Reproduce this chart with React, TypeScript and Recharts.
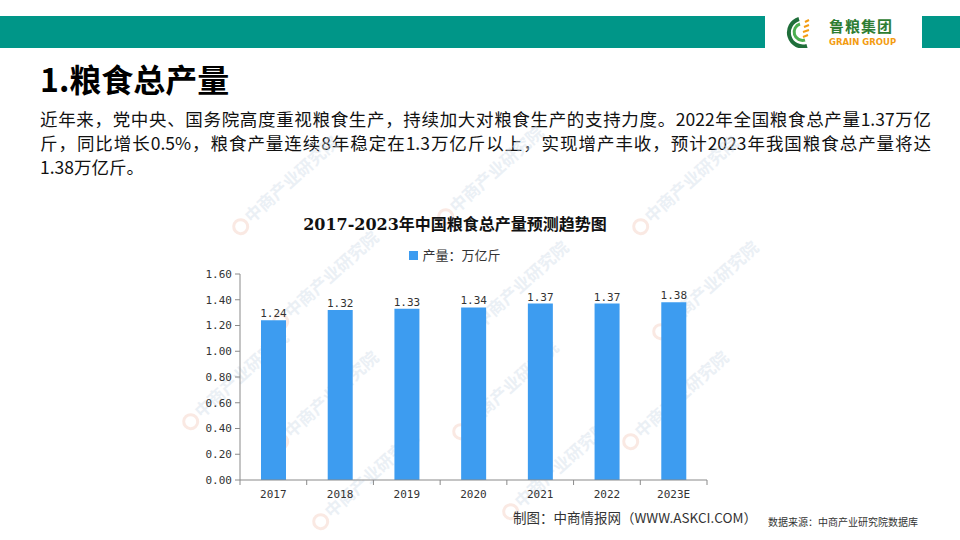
import { BarChart, Bar, XAxis, YAxis, LabelList } from "recharts";

const years = ["2017", "2018", "2019", "2020", "2021", "2022", "2023E"];
const output = [1.24, 1.32, 1.33, 1.34, 1.37, 1.37, 1.38];
const yTicks = [0, 0.2, 0.4, 0.6, 0.8, 1.0, 1.2, 1.4, 1.6];

const chartTitle = "2017-2023年中国粮食总产量预测趋势图";
const seriesName = "产量：万亿斤";
const paragraph = [
  "近年来，党中央、国务院高度重视粮食生产，持续加大对粮食生产的支持力度。2022年全国粮食总产量1.37万亿",
  "斤，同比增长0.5%，粮食产量连续8年稳定在1.3万亿斤以上，实现增产丰收，预计2023年我国粮食总产量将达",
  "1.38万亿斤。",
];

const data = years.map((year, i) => ({ year, output: output[i] }));

const TEAL = "#009688";
const BAR = "#3d9cf0";
const AXIS = "#8a8a8a";
const MONO = "'DejaVu Sans Mono', monospace";
const CJK = "'Noto Sans CJK SC', 'Noto Sans', sans-serif";

// watermark spots (decoration only)
const marks = [
  { x: 250, y: 225 }, { x: 455, y: 215 }, { x: 650, y: 225 },
  { x: 290, y: 320 }, { x: 480, y: 330 }, { x: 670, y: 330 },
  { x: 200, y: 420 }, { x: 290, y: 440 }, { x: 470, y: 430 }, { x: 640, y: 440 },
  { x: 330, y: 520 }, { x: 520, y: 510 },
];

function YearTick(props: any) {
  const { x, y, payload, index } = props;
  const half = payload?.offset ?? 0;
  return (
    <g>
      <line x1={x - half} x2={x - half} y1={y} y2={y + 5} stroke={AXIS} />
      {index === years.length - 1 && (
        <line x1={x + half} x2={x + half} y1={y} y2={y + 5} stroke={AXIS} />
      )}
      <text x={x} y={y + 18} textAnchor="middle" fontFamily={MONO} fontSize={11} fill="#333">
        {payload.value}
      </text>
    </g>
  );
}

function Logo() {
  return (
    <div style={{ position: "absolute", left: 783, top: 16, width: 130, height: 32 }}>
      <svg width={40} height={32} style={{ position: "absolute", left: 0, top: 0 }}>
        <path d="M16 3 A13 13 0 1 0 24 30" fill="none" stroke="#1f6e3a" strokeWidth={4} />
        <path d="M17 8 A8 8 0 1 0 22 24" fill="none" stroke="#4caf50" strokeWidth={3} />
        <path d="M22 6 L26 4 M21 11 L26 9 M20 16 L26 14 M20 21 L25 19" stroke="#f39c12" strokeWidth={2} />
      </svg>
      <div style={{ position: "absolute", left: 46, top: 2, fontFamily: CJK, fontWeight: 700, fontSize: 15, color: "#2e7d32", letterSpacing: 1, lineHeight: "16px" }}>
        鲁粮集团
      </div>
      <div style={{ position: "absolute", left: 46, top: 21, fontFamily: "'DejaVu Sans', sans-serif", fontWeight: 700, fontSize: 8.5, color: "#f39c12", lineHeight: "10px" }}>
        GRAIN GROUP
      </div>
    </div>
  );
}

export default function App() {
  return (
    <div style={{ position: "absolute", left: 0, top: 0, width: 960, height: 540, background: "#fff", overflow: "hidden" }}>
      <div style={{ position: "absolute", left: 0, top: 16, width: 765, height: 32, background: TEAL }} />
      <div style={{ position: "absolute", left: 922, top: 16, width: 38, height: 32, background: TEAL }} />
      <Logo />

      <div style={{ position: "absolute", left: 40, top: 56, fontFamily: CJK, fontWeight: 700, fontSize: 32, lineHeight: "44px", color: "#000" }}>
        1.粮食总产量
      </div>

      <div style={{ position: "absolute", left: 40, top: 107, width: 891, fontFamily: CJK, fontSize: 17.5, lineHeight: "24px", color: "#111" }}>
        {paragraph.map((line, i) => (
          <div key={i} style={{ textAlign: "justify", textAlignLast: i < paragraph.length - 1 ? "justify" : "left", whiteSpace: "nowrap" }}>
            {line}
          </div>
        ))}
      </div>

      <svg width={960} height={540} style={{ position: "absolute", left: 0, top: 0 }}>
        {marks.map((m, i) => (
          <g key={i} transform={`translate(${m.x},${m.y}) rotate(-42)`}>
            <circle cx={-8} cy={-5} r={7} fill="none" stroke="#f2c7b8" strokeWidth={3} opacity={0.4} />
            <text x={2} y={0} fontFamily={CJK} fontWeight={700} fontSize={17} fill="#d3deeb" opacity={0.45}>
              中商产业研究院
            </text>
          </g>
        ))}
      </svg>

      <div style={{ position: "absolute", left: 165, top: 195, width: 595, height: 335 }}>
        <div style={{ position: "absolute", left: 0, top: 16, width: 580, textAlign: "center", fontFamily: "'DejaVu Serif', 'Noto Sans CJK SC', serif", fontWeight: 700, fontSize: 16, color: "#111" }}>
          {chartTitle}
        </div>
        <div style={{ position: "absolute", left: 0, top: 51, width: 580, display: "flex", justifyContent: "center", alignItems: "center", gap: 4 }}>
          <span style={{ width: 9, height: 9, background: BAR, display: "inline-block" }} />
          <span style={{ fontFamily: CJK, fontSize: 13, color: "#333", lineHeight: "18px" }}>{seriesName}</span>
        </div>
        <BarChart width={595} height={335} data={data} margin={{ top: 79, right: 53, left: 0, bottom: 0 }}>
          <XAxis
            dataKey="year"
            height={50}
            stroke={AXIS}
            tickLine={false}
            tickSize={0}
            tickMargin={0}
            tick={<YearTick />}
            interval={0}
          />
          <YAxis
            width={75}
            domain={[0, 1.6]}
            ticks={yTicks}
            stroke={AXIS}
            tickSize={5}
            tickMargin={3}
            tickFormatter={(v: number) => v.toFixed(2)}
            tick={{ fontFamily: MONO, fontSize: 11, fill: "#333" }}
          />
          <Bar dataKey="output" name={seriesName} fill={BAR} barSize={25} isAnimationActive={false}>
            <LabelList
              dataKey="output"
              position="top"
              offset={3}
              formatter={(v: any) => Number(v).toFixed(2)}
              style={{ fontFamily: MONO, fontSize: 11, fill: "#333" }}
            />
          </Bar>
        </BarChart>
      </div>

      <div style={{ position: "absolute", left: 513, top: 507, fontFamily: CJK, fontSize: 13.5, color: "#333", whiteSpace: "nowrap" }}>
        制图：中商情报网（WWW.ASKCI.COM）
      </div>
      <div style={{ position: "absolute", left: 768, top: 514, fontFamily: CJK, fontSize: 10, color: "#333", whiteSpace: "nowrap" }}>
        数据来源：中商产业研究院数据库
      </div>
    </div>
  );
}
